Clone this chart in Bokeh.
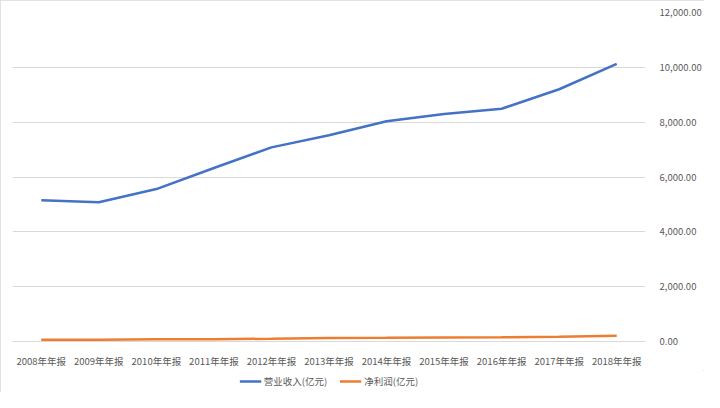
from bokeh.plotting import figure
from bokeh.layouts import column
from bokeh.models import FactorRange, Range1d, FixedTicker, NumeralTickFormatter, Legend, LegendItem
from bokeh.embed import file_html
from bokeh.resources import INLINE

years = ["2008年年报", "2009年年报", "2010年年报", "2011年年报", "2012年年报", "2013年年报",
         "2014年年报", "2015年年报", "2016年年报", "2017年年报", "2018年年报"]
revenue = [5150, 5080, 5560, 6330, 7080, 7520, 8035, 8300, 8490, 9200, 10130]
profit = [60, 65, 80, 85, 100, 130, 135, 150, 155, 170, 210]
y_ticks = [0, 2000, 4000, 6000, 8000, 10000, 12000]
series_names = ["营业收入(亿元)", "净利润(亿元)"]
series_colors = ["#4472C4", "#ED7D31"]
series_values = [revenue, profit]

FONT = "Noto Sans CJK SC"
GREY = "#595959"

p = figure(width=704, height=370, x_range=FactorRange(factors=years, range_padding=0),
           y_range=Range1d(0, 12000), y_axis_location="right",
           output_backend="svg", toolbar_location=None,
           min_border_left=12, min_border_top=12, min_border_right=54, min_border_bottom=20)
p.outline_line_color = None
p.background_fill_color = "white"
p.border_fill_color = "white"

for vals, col in zip(series_values, series_colors):
    p.line(years, vals, line_color=col, line_width=2.5)

p.xgrid.grid_line_color = None
p.ygrid.grid_line_color = "#d9d9d9"
p.ygrid.ticker = FixedTicker(ticks=y_ticks)

ya = p.yaxis[0]
ya.ticker = FixedTicker(ticks=y_ticks)
ya.formatter = NumeralTickFormatter(format="0,0.00")
ya.axis_line_color = None
ya.major_tick_line_color = None
ya.minor_tick_line_color = None
ya.major_label_text_font = FONT
ya.major_label_text_font_size = "9.5px"
ya.major_label_text_color = GREY
ya.major_label_standoff = 8

xa = p.xaxis[0]
xa.axis_line_color = "#d9d9d9"
xa.major_tick_line_color = None
xa.minor_tick_line_color = None
xa.major_label_text_font = FONT
xa.major_label_text_font_size = "9.5px"
xa.major_label_text_color = GREY
xa.major_label_standoff = 6

# legend strip: same series, drawn outside its visible y range so only the legend shows
lg = figure(width=704, height=22, x_range=FactorRange(factors=years, range_padding=0),
            y_range=Range1d(-2, -1),
            output_backend="svg", toolbar_location=None,
            min_border_left=0, min_border_right=0, min_border_top=0, min_border_bottom=0)
lg.axis.visible = False
lg.grid.grid_line_color = None
lg.outline_line_color = None
lg.background_fill_color = "white"
items = []
for name, vals, col in zip(series_names, series_values, series_colors):
    r = lg.line(years, vals, line_color=col, line_width=2.5)
    items.append(LegendItem(label=name, renderers=[r]))
legend = Legend(items=items, orientation="horizontal", location="center",
                label_text_font=FONT, label_text_font_size="9.5px", label_text_color=GREY,
                border_line_color=None, background_fill_alpha=0,
                glyph_width=22, glyph_height=10, label_standoff=3, spacing=12,
                margin=0, padding=2)
lg.add_layout(legend, "center")

layout = column(p, lg, spacing=0)
layout.styles = {"outline": "1px solid #d9d9d9", "outline-offset": "-1px"}

open("out.html", "w").write(file_html(layout, INLINE))
